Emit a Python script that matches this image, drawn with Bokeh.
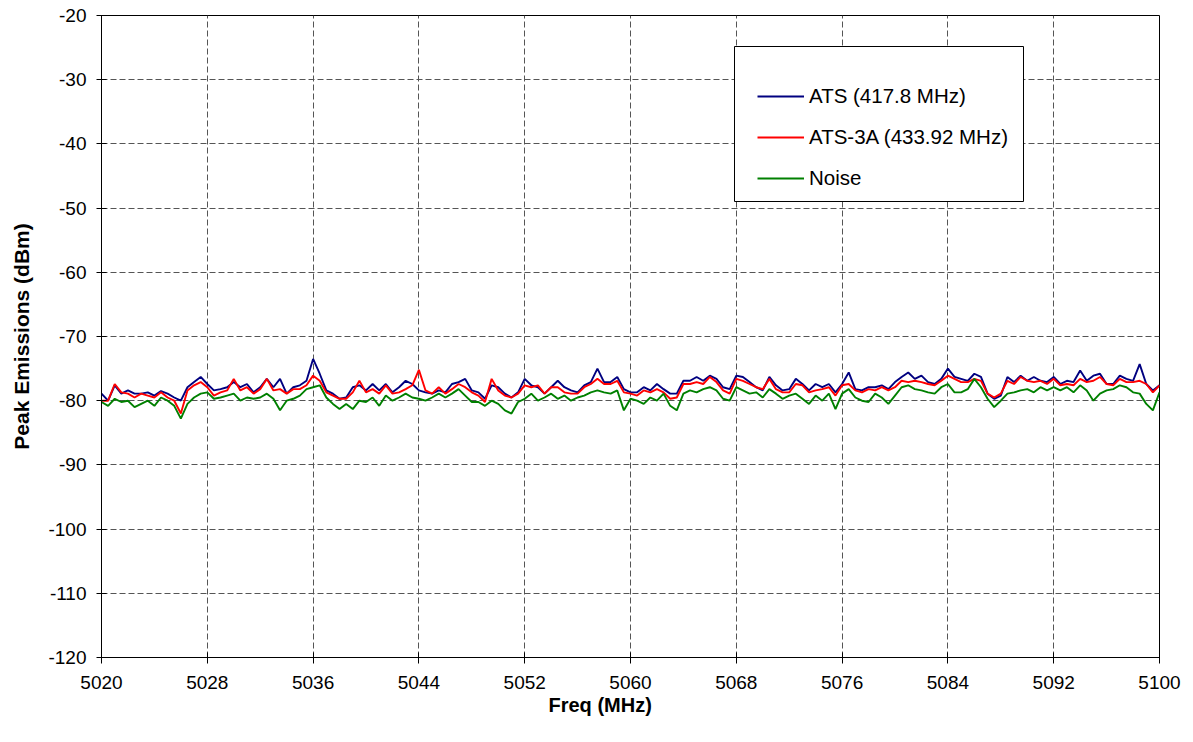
from bokeh.plotting import figure
from bokeh.models import (Legend, LegendItem, Title, FixedTicker, Range1d,
                          ColumnDataSource, BoxAnnotation)
from bokeh.embed import file_html
from bokeh.resources import INLINE

# Sweep grid: 5020 MHz to 5100 MHz in 0.5 MHz steps
freq_start = 5020.0
freq_step = 0.5

# Peak emissions (dBm) for each sweep point
ats = [
    -78.9, -80.0, -77.6, -78.9, -78.4, -78.9, -78.9, -78.7, -79.2, -78.5,
    -78.9, -79.5, -80.0, -77.9, -77.1, -76.3, -77.4, -78.4, -78.2, -77.9,
    -77.1, -77.9, -77.4, -78.7, -77.9, -76.6, -77.9, -76.6, -78.9, -77.9,
    -77.6, -76.9, -73.5, -75.8, -78.4, -78.9, -79.7, -79.5, -77.9, -77.6,
    -78.4, -77.4, -78.4, -77.4, -78.7, -77.9, -76.9, -77.4, -78.4, -78.7,
    -78.9, -78.4, -78.7, -77.4,
    -77.1, -76.6, -78.4, -78.7, -79.7, -77.6, -77.9, -78.9, -79.5, -78.7,
    -76.6, -77.6, -77.9, -78.9, -77.9, -76.9, -77.9, -78.4, -78.7, -77.6,
    -77.1, -75.0, -77.1, -77.1, -76.3, -78.2, -78.7, -78.7, -77.9, -78.4,
    -77.4, -78.2, -78.9, -78.9, -76.9, -76.9, -76.3, -76.9, -76.1, -76.6,
    -77.9, -78.2, -76.1, -76.3, -77.1, -77.9, -78.4, -76.3, -77.6, -78.4,
    -78.2, -76.6, -77.4,
    -78.4, -77.4, -77.9, -77.4, -78.7, -77.4, -75.6, -78.2, -78.4, -77.9,
    -77.9, -77.6, -78.2, -77.1, -76.3, -75.6, -76.6, -76.1, -77.1, -77.4,
    -76.6, -75.0, -76.3, -76.6, -76.9, -75.8, -76.3, -78.9, -79.7, -79.2,
    -76.3, -77.1, -76.1, -76.9, -76.3, -76.9, -77.1, -76.3, -77.4, -76.9,
    -77.1, -75.3, -76.9, -76.1, -75.8, -77.4, -77.4, -76.1, -76.6, -76.9,
    -74.3, -77.4, -78.4, -77.6,
]

ats_3a = [
    -80.0, -80.0, -77.4, -78.7, -78.9, -79.5, -78.9, -79.2, -79.5, -78.7,
    -79.5, -80.0, -82.0, -78.4, -77.6, -77.1, -77.9, -79.2, -78.7, -78.4,
    -76.6, -78.4, -77.9, -78.9, -78.2, -76.6, -78.4, -78.2, -78.9, -78.2,
    -78.2, -77.6, -76.1, -76.9, -78.7, -79.2, -79.7, -79.7, -78.7, -76.9,
    -78.7, -78.2, -78.9, -77.6, -78.9, -78.7, -78.2, -77.6, -75.2, -78.4,
    -78.9, -77.9, -78.9, -78.2,
    -77.4, -77.9, -78.7, -79.2, -80.2, -76.6, -78.4, -79.2, -79.5, -78.9,
    -77.6, -77.9, -77.6, -78.9, -77.9, -77.9, -78.7, -78.9, -78.9, -77.9,
    -77.4, -76.6, -77.4, -77.4, -76.9, -78.7, -78.9, -79.2, -78.4, -78.7,
    -78.2, -78.7, -79.7, -79.5, -77.4, -77.4, -77.1, -77.4, -76.3, -77.1,
    -78.4, -78.9, -76.6, -76.9, -77.4, -77.9, -78.2, -76.6, -78.2, -78.7,
    -78.7, -77.4, -77.6,
    -78.7, -78.4, -78.2, -77.9, -79.2, -77.6, -77.4, -78.4, -78.7, -78.2,
    -78.4, -77.9, -78.4, -77.9, -76.9, -77.1, -76.9, -77.1, -77.4, -77.6,
    -76.9, -76.1, -76.6, -77.1, -77.1, -76.6, -76.9, -78.9, -79.5, -78.9,
    -76.9, -77.4, -76.3, -76.9, -77.1, -76.9, -77.4, -76.6, -77.6, -77.4,
    -77.6, -76.6, -77.1, -76.9, -76.3, -77.4, -77.6, -76.6, -77.1, -77.1,
    -76.9, -77.4, -78.7, -77.6,
]

noise = [
    -80.2, -80.8, -79.7, -80.2, -80.0, -81.0, -80.5, -80.0, -80.8, -79.5,
    -80.0, -80.8, -82.8, -80.5, -79.5, -78.9, -78.7, -79.7, -79.5, -79.2,
    -78.9, -80.0, -79.5, -79.7, -79.5, -78.9, -79.7, -81.5, -80.0, -79.7,
    -79.2, -78.2, -77.9, -77.6, -79.5, -80.5, -81.3, -80.5, -81.3, -80.0,
    -80.2, -79.5, -80.8, -79.2, -80.0, -79.5, -78.9, -79.5, -79.7, -80.0,
    -79.5, -78.9, -79.5, -78.9,
    -78.2, -79.2, -80.2, -80.2, -80.8, -80.0, -80.5, -81.5, -82.0, -80.2,
    -79.7, -78.9, -80.0, -79.5, -78.9, -79.7, -79.2, -80.0, -79.5, -79.2,
    -78.7, -78.4, -78.7, -78.9, -78.4, -81.5, -79.7, -80.0, -80.5, -79.5,
    -80.0, -78.9, -80.8, -81.5, -78.9, -78.4, -78.7, -78.2, -77.9, -78.4,
    -79.7, -80.0, -77.9, -78.4, -78.9, -78.7, -79.5, -78.2, -78.9, -79.7,
    -79.2, -78.9, -79.7,
    -80.5, -79.2, -80.0, -78.9, -81.3, -78.9, -78.2, -79.5, -80.0, -80.2,
    -78.9, -79.5, -80.5, -79.2, -77.9, -77.6, -78.2, -78.4, -78.7, -78.9,
    -77.9, -77.4, -78.7, -78.7, -78.2, -76.6, -77.9, -79.7, -81.0, -80.0,
    -78.9, -78.7, -78.4, -78.2, -78.7, -77.9, -78.4, -77.9, -78.4, -77.9,
    -78.7, -77.6, -78.4, -80.0, -78.9, -78.4, -78.2, -77.6, -77.9, -78.7,
    -78.9, -80.5, -81.5, -78.7,
]

series_names = ["ATS (417.8 MHz)", "ATS-3A (433.92 MHz)", "Noise"]
series_colors = ["#000080", "#FF0000", "#008000"]

x_ticks = [5020, 5028, 5036, 5044, 5052, 5060, 5068, 5076, 5084, 5092, 5100]
y_ticks = [-120, -110, -100, -90, -80, -70, -60, -50, -40, -30, -20]

freq = [freq_start + i * freq_step for i in range(len(ats))]
source = ColumnDataSource(dict(freq=freq, ats=ats, ats_3a=ats_3a, noise=noise))

FONT = "Liberation Sans"

p = figure(
    width=1193, height=742,
    x_range=Range1d(5020, 5100), y_range=Range1d(-120, -20),
    output_backend="svg", toolbar_location=None,
    min_border_left=101, min_border_right=34,
    min_border_top=15, min_border_bottom=85,
    background_fill_color="white", border_fill_color="white",
)
p.outline_line_color = "black"
p.outline_line_width = 1
p.outline_line_alpha = 1

# axes
for ax in (p.xaxis[0], p.yaxis[0]):
    ax.axis_line_color = "black"
    ax.axis_line_width = 1
    ax.major_tick_line_color = "black"
    ax.major_tick_in = 5
    ax.major_tick_out = 5
    ax.minor_tick_line_color = None
    ax.major_label_text_font = FONT
    ax.major_label_text_font_size = "19px"
    ax.major_label_text_color = "black"

p.xaxis.ticker = FixedTicker(ticks=x_ticks)
p.yaxis.ticker = FixedTicker(ticks=y_ticks)
# plain hyphen-minus on the dBm labels
p.yaxis.major_label_overrides = {t: str(t) for t in y_ticks}
p.xaxis.major_tick_out = 6
p.xaxis.major_label_standoff = 12
p.yaxis.major_label_standoff = 10

p.yaxis.axis_label = "Peak Emissions (dBm)"
p.yaxis.axis_label_text_font = FONT
p.yaxis.axis_label_text_font_size = "21px"
p.yaxis.axis_label_text_font_style = "bold"
p.yaxis.axis_label_text_color = "black"
p.yaxis.axis_label_standoff = 12

# grid
p.xgrid.ticker = FixedTicker(ticks=x_ticks)
p.ygrid.ticker = FixedTicker(ticks=y_ticks)
for g in (p.xgrid[0], p.ygrid[0]):
    g.grid_line_color = "#555555"
    g.grid_line_width = 1
    g.grid_line_dash = "6 3"

# x axis title, centred on the whole chart area rather than the frame
p.add_layout(Title(text="Freq (MHz)", align="left", offset=447,
                   text_font=FONT, text_font_size="20px",
                   text_font_style="bold", text_color="black",
                   standoff=0), "below")

# traces
renderers = []
for col, color in zip(["ats", "ats_3a", "noise"], series_colors):
    r = p.line("freq", col, source=source, line_color=color, line_width=1.9)
    renderers.append(r)

# legend frame (screen pixels from the frame's bottom-left corner)
p.add_layout(BoxAnnotation(left=633, right=922, bottom=456, top=611,
                           left_units="screen", right_units="screen",
                           bottom_units="screen", top_units="screen",
                           fill_color="white", fill_alpha=1,
                           line_color="black", line_width=1, line_alpha=1))

legend = Legend(
    items=[LegendItem(label=n, renderers=[r]) for n, r in zip(series_names, renderers)],
    location=(656, 467),
    padding=0, spacing=17,
    glyph_width=47, glyph_height=20, label_height=20, label_standoff=5,
    label_text_font=FONT, label_text_font_size="20.5px", label_text_color="black",
    border_line_color=None, background_fill_alpha=0,
)
p.add_layout(legend, "center")

open("out.html", "w").write(file_html(p, INLINE))
